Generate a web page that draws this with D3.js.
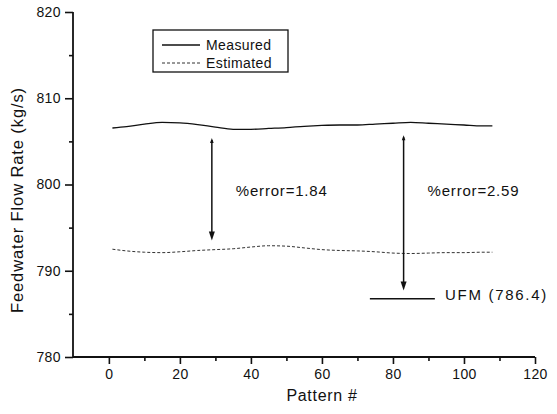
<!DOCTYPE html>
<html><head><meta charset="utf-8">
<script src="https://cdn.jsdelivr.net/npm/d3@7"></script>
<style>body{margin:0;background:#fff}svg{display:block}text{font-family:"Liberation Sans",Arial,sans-serif;fill:#111}</style>
</head><body>
<script>
const patterns = [1,5,10,15,20,25,30,35,40,45,50,55,60,65,70,75,80,85,90,95,100,105,108];
const measured = [806.55,806.7,807.0,807.2,807.15,806.95,806.65,806.4,806.4,806.5,806.6,806.75,806.85,806.9,806.9,807.0,807.1,807.2,807.1,807.0,806.9,806.8,806.8];
const estimated = [792.5,792.3,792.15,792.1,792.2,792.35,792.45,792.55,792.75,792.9,792.85,792.65,792.45,792.35,792.3,792.2,792.05,792.0,792.05,792.1,792.1,792.15,792.15];
const xTicks = [0,20,40,60,80,100,120];
const yTicks = [780,790,800,810,820];
const arrows = [{x:29, top:805.4, bottom:793.5, label:"%error=1.84"},{x:83, top:805.7, bottom:787.7, label:"%error=2.59"}];
const ufm = {value:786.75, x0:73.5, x1:91.8, label:"UFM (786.4)"};
const legendItems = ["Measured","Estimated"];

const W=557,H=414;
const svg=d3.select("body").append("svg").attr("width",W).attr("height",H);
const x=d3.scaleLinear().domain([-10.1,120]).range([73,535]);
const y=d3.scaleLinear().domain([780,820]).range([357,12]);

// axes
const gx=svg.append("g").attr("transform","translate(0,357)")
  .call(d3.axisBottom(x).tickValues(xTicks).tickSize(7).tickPadding(5).tickFormat(d3.format("d")));
const gxm=svg.append("g").attr("transform","translate(0,357)")
  .call(d3.axisBottom(x).tickValues(d3.range(10,120,20)).tickSize(4).tickFormat(""));
const gy=svg.append("g").attr("transform","translate(73,0)")
  .call(d3.axisLeft(y).tickValues(yTicks).tickSize(8).tickPadding(4).tickFormat(d3.format("d")));
const gym=svg.append("g").attr("transform","translate(73,0)")
  .call(d3.axisLeft(y).tickValues(d3.range(785,820,10)).tickSize(4).tickFormat(""));
[gx,gxm,gy,gym].forEach(g=>{
  g.select(".domain").attr("stroke","#111").attr("stroke-width",1.8);
  g.selectAll(".tick line").attr("stroke","#111").attr("stroke-width",1.6);
  g.selectAll(".tick text").attr("font-size",14).attr("letter-spacing",0.4).attr("fill","#111")
   .style("font-family","'Liberation Sans',Arial,sans-serif");
});
gx.select(".domain").attr("d","M73,0H535");
gy.select(".domain").attr("d","M0,357V12");
gxm.select(".domain").remove(); gym.select(".domain").remove();

svg.append("text").attr("x",322).attr("y",401).attr("text-anchor","middle")
  .attr("font-size",16).attr("letter-spacing",0.7).text("Pattern #");
svg.append("text").attr("transform","translate(23,200) rotate(-90)").attr("text-anchor","middle")
  .attr("font-size",16.5).attr("letter-spacing",0.9).text("Feedwater Flow Rate (kg/s)");

// lines
const line=d3.line().curve(d3.curveMonotoneX);
svg.append("path").attr("fill","none").attr("stroke","#111").attr("stroke-width",1.3)
  .attr("d",line(patterns.map((p,i)=>[x(p),y(measured[i])])));
svg.append("path").attr("fill","none").attr("stroke","#333").attr("stroke-width",1).attr("stroke-dasharray","3,2")
  .attr("d",line(patterns.map((p,i)=>[x(p),y(estimated[i])])));

// arrows
arrows.forEach(a=>{
  const ax=x(a.x), yt=y(a.top), yb=y(a.bottom);
  svg.append("line").attr("x1",ax).attr("x2",ax).attr("y1",yt+2).attr("y2",yb-6).attr("stroke","#111").attr("stroke-width",1.5);
  svg.append("path").attr("fill","#111").attr("d",`M${ax},${yb}L${ax-3},${yb-9}L${ax+3},${yb-9}Z`);
  svg.append("path").attr("fill","#111").attr("d",`M${ax},${yt}L${ax-1.8},${yt+5}L${ax+1.8},${yt+5}Z`);
  svg.append("text").attr("x",ax+24).attr("y",196).attr("font-size",15).attr("letter-spacing",0.8).text(a.label);
});
svg.append("line").attr("x1",x(ufm.x0)).attr("x2",x(ufm.x1)).attr("y1",y(ufm.value)).attr("y2",y(ufm.value))
  .attr("stroke","#111").attr("stroke-width",1.5);
svg.append("text").attr("x",445).attr("y",y(ufm.value)+1).attr("font-size",15).attr("letter-spacing",1.7).text(ufm.label);

// legend
const lg=svg.append("g");
lg.append("rect").attr("x",153).attr("y",30).attr("width",135).attr("height",42).attr("fill","none").attr("stroke","#111").attr("stroke-width",1.3);
legendItems.forEach((t,i)=>{
  const ly=45+i*18;
  lg.append("line").attr("x1",162).attr("x2",200).attr("y1",ly).attr("y2",ly).attr("stroke",i?"#333":"#111")
    .attr("stroke-width",i?1:1.3).attr("stroke-dasharray",i?"3,2":null);
  lg.append("text").attr("x",206).attr("y",ly+5).attr("font-size",14).attr("letter-spacing",0.4).text(t);
});
</script>
</body></html>
